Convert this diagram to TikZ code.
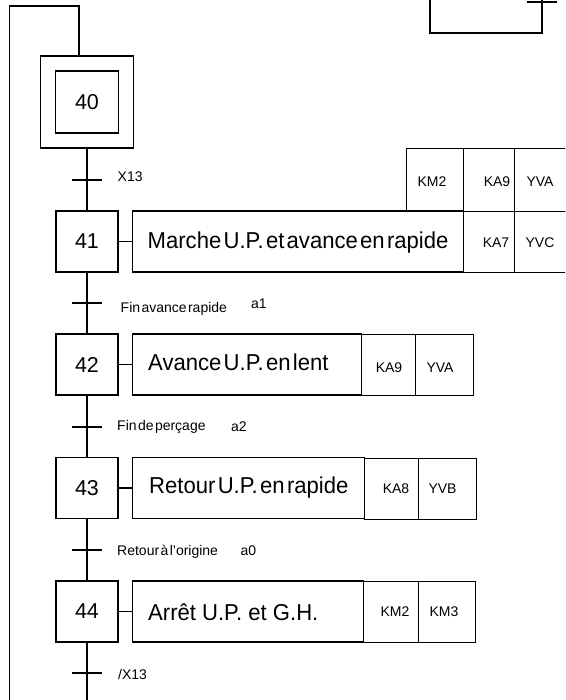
\documentclass[tikz,border=0pt]{standalone}
\usepackage{fontspec}
\setmainfont{Liberation Sans}
\newfontfamily\actfont[FakeStretch=0.96]{Liberation Sans}
\newcommand\stepfnt{\fontsize{21.5}{24}\selectfont}
\newcommand\actfnt{\actfont\fontsize{23}{26}\selectfont}
\newcommand\smallfnt{\fontsize{14}{16}\selectfont}
\newcommand\tightsp{\spaceskip=0.1em\relax}
\tikzset{
  line/.style={line width=1.2pt},
  stepbox/.style={draw, line width=1.2pt, minimum width=62pt, minimum height=61pt, inner sep=0pt, font=\stepfnt},
  initbox/.style={draw, line width=1.2pt, minimum width=93pt, minimum height=92pt, inner sep=0pt},
  actbox/.style={draw, line width=1.2pt, minimum height=61pt, inner sep=0pt, anchor=west},
  cellbox/.style={draw, line width=1.2pt, inner sep=0pt, anchor=north west},
  bar/.style={line width=1.2pt},
  acttext/.style={anchor=base west, inner sep=0pt, font=\actfnt},
  lbl/.style={anchor=base west, inner sep=0pt, font=\smallfnt\tightsp},
  celltext/.style={inner sep=0pt, font=\smallfnt}
}
\begin{document}
\begin{tikzpicture}[x=1pt, y=-1pt]
\useasboundingbox (0,0) rectangle (565,700);
\clip (0,0) rectangle (565,700);

% initial step 40
\node[initbox] (s40) at (87,102) {};
\node[stepbox, minimum width=63pt, minimum height=62pt] (s40i) at (87,102) {40};

% steps
\node[stepbox] (s41) at (87,241.5) {41};
\node[stepbox] (s42) at (87,364.5) {42};
\node[stepbox] (s43) at (87,488) {43};
\node[stepbox] (s44) at (87,611.5) {44};

% transitions (bar centres)
\coordinate (t0) at (87,180);
\coordinate (t1) at (87,303);
\coordinate (t2) at (87,427);
\coordinate (t3) at (87,550);
\coordinate (t4) at (87,673);
\foreach \t in {t0,t1,t2,t3,t4} {\draw[bar] (\t) +(-15,0) -- +(15,0);}

% main links
\coordinate (bot) at (87,705);
\draw[line] (s40.south) -- (s41.north);
\draw[line] (s41.south) -- (s42.north);
\draw[line] (s42.south) -- (s43.north);
\draw[line] (s43.south) -- (s44.north);
\draw[line] (s44.south) -- (bot);

% return loop
\coordinate (r1) at (9.5,705);
\coordinate (r2) at (9.5,6);
\coordinate (r3) at (79,6);
\draw[line] (r1) -- (r2) -- (r3) -- (r3 |- s40.north);

% top right partial box
\coordinate (q1) at (430,-5);
\coordinate (q2) at (430,33);
\coordinate (q3) at (542,33);
\coordinate (q4) at (542,-5);
\draw[line] (q1) -- (q2) -- (q3) -- (q4);
\coordinate (tq) at (542,2);
\draw[bar] (tq) +(-15,0) -- +(15,0);

% transition labels
\node[lbl] (l0) at (117.5,182) {X13};
\node[lbl] (l1) at (120.5,312.3) {Fin avance rapide};
\node[lbl] (l1b) at (251,308.3) {a1};
\node[lbl] (l2) at (117,430.7) {Fin de perçage};
\node[lbl] (l2b) at (231,431.7) {a2};
\node[lbl] (l3) at (117,555) {Retour à l'origine};
\node[lbl] (l3b) at (240.5,555) {a0};
\node[lbl] (l4) at (118,679) {/X13};

% step 41 actions
\node[actbox, minimum width=331pt] (a41) at (132,241.5) {};
\draw[line] (s41.east) -- (a41.west);
\node[acttext] (x41) at (147.5,248.3) {\tightsp Marche U.P. et avance en rapide};
\node[cellbox, minimum width=51pt, minimum height=61pt] (c41a) at (463,211) {};
\node[cellbox, minimum width=70pt, minimum height=61pt] (c41b) at (514,211) {};
\node[cellbox, minimum width=57pt, minimum height=63pt] (c41c) at (406,148) {};
\node[cellbox, minimum width=51pt, minimum height=63pt] (c41d) at (463,148) {};
\node[cellbox, minimum width=70pt, minimum height=63pt] (c41e) at (514,148) {};
\node[celltext] at (432,181.7) {KM2};
\node[celltext] at (497,181.7) {KA9};
\node[celltext] at (540,181.7) {YVA};
\node[celltext] at (496,243) {KA7};
\node[celltext] at (540,243) {YVC};

% step 42 actions
\node[actbox, minimum width=229pt] (a42) at (132,364.5) {};
\draw[line] (s42.east) -- (a42.west);
\node[acttext] (x42) at (148,370) {\tightsp Avance U.P. en lent};
\node[cellbox, minimum width=54pt, minimum height=61pt] (c42a) at (361,334) {};
\node[cellbox, minimum width=58pt, minimum height=61pt] (c42b) at (415,334) {};
\node[celltext] at (389,367.5) {KA9};
\node[celltext] at (440,367.5) {YVA};

% step 43 actions
\node[actbox, minimum width=232pt] (a43) at (132,488) {};
\draw[line] (s43.east) -- (a43.west);
\node[acttext] (x43) at (149,493.3) {\tightsp Retour U.P. en rapide};
\node[cellbox, minimum width=54pt, minimum height=61pt] (c43a) at (364,457.5) {};
\node[cellbox, minimum width=58pt, minimum height=61pt] (c43b) at (418,457.5) {};
\node[celltext] at (396,489) {KA8};
\node[celltext] at (442.5,489) {YVB};

% step 44 actions
\node[actbox, minimum width=231pt] (a44) at (132,611.5) {};
\draw[line] (s44.east) -- (a44.west);
\node[acttext] (x44) at (148,620) {Arrêt U.P. et G.H.};
\node[cellbox, minimum width=55pt, minimum height=61pt] (c44a) at (363,581) {};
\node[cellbox, minimum width=57pt, minimum height=61pt] (c44b) at (418,581) {};
\node[celltext] at (395,611.7) {KM2};
\node[celltext] at (444,611.7) {KM3};
\end{tikzpicture}
\end{document}
